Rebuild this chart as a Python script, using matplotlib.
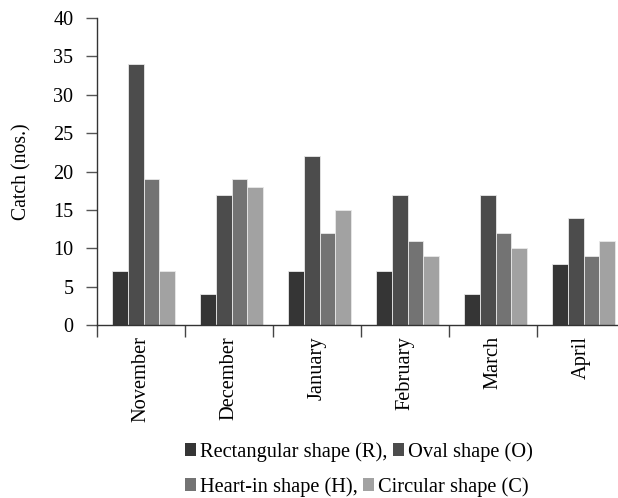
import matplotlib
matplotlib.use("Agg")
import matplotlib.pyplot as plt
from matplotlib.patches import Patch
import numpy as np

months = ["November", "December", "January", "February", "March", "April"]
series_names = ["Rectangular shape (R),", "Oval shape (O)", "Heart-in shape (H),", "Circular shape (C)"]
rect = [7, 4, 7, 7, 4, 8]
oval = [34, 17, 22, 17, 17, 14]
heart = [19, 19, 12, 11, 12, 9]
circ = [7, 18, 15, 9, 10, 11]
yticks = [0, 5, 10, 15, 20, 25, 30, 35, 40]

colors = ["#353535", "#4c4c4c", "#737373", "#a2a2a2"]

plt.rcParams['font.family'] = ['Liberation Serif', 'DejaVu Serif']

fig = plt.figure(figsize=(6.18, 4.98), dpi=100)
ax = fig.add_axes([97/618, 1-325/498, 528/618, (325-18)/498])

x = np.arange(len(months))
w = 0.18
data = [rect, oval, heart, circ]
for i, (vals, c) in enumerate(zip(data, colors)):
    ax.bar(x + (i - 1.5) * w + 0.03, vals, width=w, color=c, edgecolor="#e8e8e8", linewidth=0.6, zorder=2)

ax.set_xlim(-0.5, 5.5)
ax.set_ylim(0, 40)
ax.set_yticks(yticks)
ax.set_yticklabels([str(t) for t in yticks], fontsize=14.5)
ax.set_xticks(x)
ax.set_xticklabels(months, rotation=90, fontsize=14.7)
ax.tick_params(axis='x', which='major', length=0, pad=8)
ax.set_xticks(np.arange(-0.5, 6, 1), minor=True)
ax.tick_params(axis='x', which='minor', length=8.5, width=1, color="#444444", direction='out')
ax.tick_params(axis='y', length=8, width=1, color="#555555", direction='out', pad=9)
for s in ['top', 'right']:
    ax.spines[s].set_visible(False)
for s in ['left', 'bottom']:
    ax.spines[s].set_color("#333333")
    ax.spines[s].set_linewidth(1)
ax.set_ylabel("Catch (nos.)", fontsize=14.2, labelpad=16)

h1 = [Patch(facecolor=colors[0]), Patch(facecolor=colors[1])]
h2 = [Patch(facecolor=colors[2]), Patch(facecolor=colors[3])]
kw = dict(ncol=2, frameon=False, fontsize=14.7, handlelength=0.55, handleheight=0.55,
          handletextpad=0.2, columnspacing=0.25, borderaxespad=0, borderpad=0)
leg1 = fig.legend(h1, series_names[:2], loc='upper left', bbox_to_anchor=(185/618, 1-442/498), **kw)
leg2 = fig.legend(h2, series_names[2:], loc='upper left', bbox_to_anchor=(185/618, 1-477/498), **kw)

fig.savefig("out.png", dpi=100)
